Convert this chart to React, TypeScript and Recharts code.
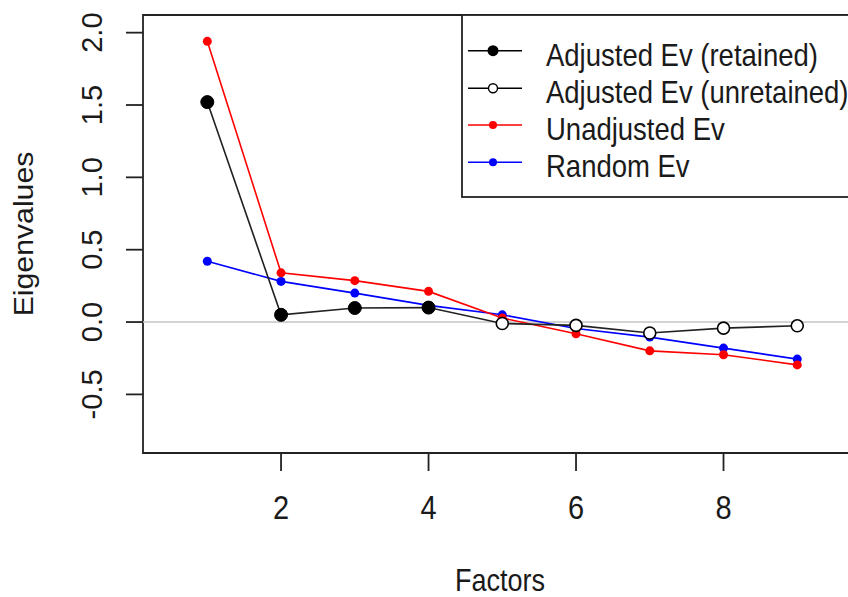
import { LineChart, Line, XAxis, YAxis, ReferenceLine, ReferenceArea, Legend } from 'recharts';

const factors = [1, 2, 3, 4, 5, 6, 7, 8, 9];
const adjustedEv = [1.52, 0.05, 0.097, 0.1, -0.01, -0.023, -0.076, -0.042, -0.026];
const unadjustedEv = [1.94, 0.34, 0.286, 0.212, 0.028, -0.081, -0.199, -0.226, -0.296];
const randomEv = [0.42, 0.281, 0.2, 0.115, 0.05, -0.045, -0.104, -0.18, -0.256];
const retained = 4;

const xTicks = [2, 4, 6, 8];
const yTicks = [-0.5, 0, 0.5, 1, 1.5, 2];
const xDomain = [0.128, 10];
const yDomain = [-0.905, 2.122];

const legendLabels = [
  'Adjusted Ev (retained)',
  'Adjusted Ev (unretained)',
  'Unadjusted Ev',
  'Random Ev',
];

const font = '"Liberation Sans", Arial, sans-serif';
const ink = '#1a1a1a';

const data = factors.map((f, i) => ({
  factor: f,
  adjusted: adjustedEv[i],
  unadjusted: unadjustedEv[i],
  random: randomEv[i],
}));

function XTick({ x, payload }: any) {
  return (
    <g transform={`translate(${x},519) scale(1,1.17)`}>
      <text textAnchor="middle" fontSize={29} fontFamily={font} fill={ink}>
        {payload.value}
      </text>
    </g>
  );
}

function YTick({ y, payload }: any) {
  return (
    <text
      transform={`translate(102,${y}) rotate(-90)`}
      textAnchor="middle"
      fontSize={29}
      fontFamily={font}
      fill={ink}
    >
      {Number(payload.value).toFixed(1)}
    </text>
  );
}

function AdjustedDot({ cx, cy, index }: any) {
  if (index < retained) {
    return <circle key={index} cx={cx} cy={cy} r={6.5} fill="#000" stroke="#000" />;
  }
  return <circle key={index} cx={cx} cy={cy} r={6} fill="#fff" stroke="#000" strokeWidth={1.6} />;
}

function LegendBox() {
  const rows = [36.7, 74.3, 111, 148.3];
  const colors = ['#000', '#000', '#ff0000', '#0000ff'];
  return (
    <svg width={440} height={185} style={{ display: 'block' }}>
      <rect x={1} y={1} width={438} height={182} fill="#fff" stroke="#222" strokeWidth={1.8} />
      {rows.map((ry, i) => (
        <g key={i}>
          <line x1={7} x2={61} y1={ry} y2={ry} stroke={colors[i]} strokeWidth={1.6} />
          {i === 0 && <circle cx={32} cy={ry} r={5.5} fill="#000" />}
          {i === 1 && <circle cx={32} cy={ry} r={4.5} fill="#fff" stroke="#000" strokeWidth={1.4} />}
          {i > 1 && <circle cx={32} cy={ry} r={4} fill={colors[i]} />}
          <g transform={`translate(85,${ry + 15}) scale(1,1.16)`}>
            <text fontSize={27.5} fontFamily={font} fill={ink}>
              {legendLabels[i]}
            </text>
          </g>
        </g>
      ))}
    </svg>
  );
}

export default function App() {
  return (
    <div style={{ position: 'absolute', left: 0, top: 0, width: 848, height: 597, overflow: 'hidden', background: '#fff' }}>
      <LineChart width={881} height={597} data={data} margin={{ top: 15, right: 10, left: 0, bottom: 0 }}>
        <XAxis
          dataKey="factor"
          type="number"
          domain={xDomain}
          ticks={xTicks}
          allowDataOverflow
          height={144}
          tickSize={18}
          axisLine={false}
          tickLine={{ stroke: '#222', strokeWidth: 1.8 }}
          tick={<XTick />}
        />
        <YAxis
          type="number"
          domain={yDomain}
          ticks={yTicks}
          allowDataOverflow
          width={143}
          tickSize={17}
          axisLine={false}
          tickLine={{ stroke: '#222', strokeWidth: 1.8 }}
          tick={<YTick />}
        />
        <ReferenceLine y={0} stroke="#c4c4c4" strokeWidth={1.6} />
        <ReferenceArea
          x1={xDomain[0]}
          x2={xDomain[1]}
          y1={yDomain[0]}
          y2={yDomain[1]}
          fill="none"
          stroke="#222"
          strokeWidth={1.8}
        />
        <Line
          dataKey="random"
          stroke="#0000ff"
          strokeWidth={1.6}
          dot={{ r: 4.5, fill: '#0000ff', stroke: '#0000ff', strokeWidth: 0 }}
          isAnimationActive={false}
        />
        <Line
          dataKey="unadjusted"
          stroke="#ff0000"
          strokeWidth={1.6}
          dot={{ r: 4.5, fill: '#ff0000', stroke: '#ff0000', strokeWidth: 0 }}
          isAnimationActive={false}
        />
        <Line
          dataKey="adjusted"
          stroke="#222"
          strokeWidth={1.6}
          dot={<AdjustedDot />}
          isAnimationActive={false}
        />
        <Legend
          layout="vertical"
          align="center"
          verticalAlign="middle"
          content={<LegendBox />}
          wrapperStyle={{ left: 461, top: 14, width: 440, height: 185 }}
        />
      </LineChart>
      <svg width={848} height={597} style={{ position: 'absolute', left: 0, top: 0, pointerEvents: 'none' }}>
        <g transform="translate(33,234) scale(1,1.08) rotate(-90)">
          <text textAnchor="middle" fontSize={28} fontFamily={font} fill={ink}>
            Eigenvalues
          </text>
        </g>
        <g transform="translate(500,591) scale(1,1.18)">
          <text textAnchor="middle" fontSize={27} fontFamily={font} fill={ink}>
            Factors
          </text>
        </g>
      </svg>
    </div>
  );
}
